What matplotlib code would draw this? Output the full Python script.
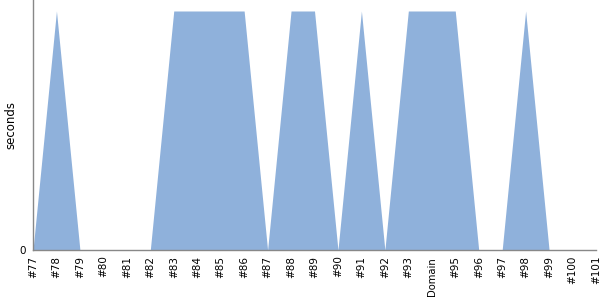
import matplotlib
matplotlib.use("Agg")
import matplotlib.pyplot as plt

categories = ["#77", "#78", "#79", "#80", "#81", "#82", "#83", "#84", "#85", "#86",
              "#87", "#88", "#89", "#90", "#91", "#92", "#93", "#94", "#95", "#96",
              "#97", "#98", "#99", "#100", "#101"]
values = [0, 1, 0, 0, 0, 0, 1, 1, 1, 1,
          0, 1, 1, 0, 1, 0, 1, 1, 1, 0,
          0, 1, 0, 0, 0]

fig = plt.figure(figsize=(6, 3), dpi=100)
ax = fig.add_axes([33/600, 50/300, 563/600, 250/300])
x = list(range(len(categories)))
ax.fill_between(x, values, 0, color="#8fb1db", linewidth=0)
ax.set_xlim(0, len(categories) - 1)
ax.set_ylim(0, 250/239)
ax.set_yticks([0])
ax.set_yticklabels(["0"], fontsize=7.5)
ax.set_xticks(x)
labels = [c if c != "#94" else "" for c in categories]
ax.set_xticklabels(labels, rotation=90, fontsize=7.5)
ax.tick_params(axis="both", length=0, pad=4, colors="black")
ax.tick_params(axis="y", pad=5)
for s in ["top", "right"]:
    ax.spines[s].set_visible(False)
for s in ["left", "bottom"]:
    ax.spines[s].set_color("#888888")
    ax.spines[s].set_linewidth(1)
ax.set_ylabel("seconds", fontsize=8.5, va="center")
ax.yaxis.set_label_coords((11 - 33) / 563, 0.5)
# axis title positioned under the category where it appears in the reference
idx = categories.index("#94")
ax.text(idx, -0.028, "Domain", rotation=90, ha="center", va="top", fontsize=7.2,
        transform=ax.get_xaxis_transform())
fig.savefig("out.png", dpi=100)
